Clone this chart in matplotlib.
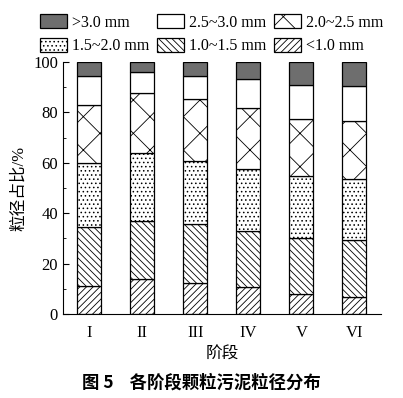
import numpy as np
import matplotlib.pyplot as plt
from matplotlib.ticker import MultipleLocator

plt.rcParams['font.family'] = ['Liberation Serif', 'Noto Sans CJK SC']
plt.rcParams['hatch.linewidth'] = 0.6

stages = ["I", "II", "III", "IV", "V", "VI"]

# layer shares (%), bottom to top
lt_10 = [11.2, 13.8, 12.2, 10.6, 7.9, 6.6]
s10_15 = [23.2, 23.2, 23.4, 22.5, 22.4, 22.6]
s15_20 = [25.4, 26.8, 25.1, 24.4, 24.3, 24.4]
s20_25 = [23.1, 24.0, 24.7, 24.1, 23.0, 23.0]
s25_30 = [11.7, 8.1, 9.0, 11.5, 13.3, 13.8]
gt_30 = [5.4, 4.1, 5.6, 6.9, 9.1, 9.6]

layers = [
    ("<1.0 mm", lt_10, "white", "/////"),
    ("1.0~1.5 mm", s10_15, "white", "\\\\\\\\\\"),
    ("1.5~2.0 mm", s15_20, "white", "...."),
    ("2.0~2.5 mm", s20_25, "white", "x"),
    ("2.5~3.0 mm", s25_30, "white", ""),
    (">3.0 mm", gt_30, "#6e6e6e", ""),
]

fig = plt.figure(figsize=(4.03, 3.98), dpi=100)
ax = fig.add_axes([0.156, 0.211, 0.789, 0.633])

x = np.arange(len(stages))
bottom = np.zeros(len(stages))
bars = {}
for name, vals, fc, hatch in layers:
    vals = np.array(vals)
    bars[name] = ax.bar(x, vals, 0.45, bottom=bottom, color=fc, edgecolor="black",
                        hatch=hatch, linewidth=0.9)
    bottom += vals

ax.set_xlim(-0.5, 5.5)
ax.set_ylim(0, 100)
ax.set_xticks(x)
ax.set_xticklabels(stages, fontsize=12)
ax.tick_params(axis="x", length=0, pad=8)
ax.yaxis.set_major_locator(MultipleLocator(20))
ax.yaxis.set_minor_locator(MultipleLocator(10))
ax.tick_params(axis="y", which="both", direction="in", labelsize=12)
ax.tick_params(axis="y", which="major", length=4)
ax.tick_params(axis="y", which="minor", length=2.5)
ax.spines["top"].set_visible(False)
ax.spines["right"].set_visible(False)

ax.set_ylabel("粒径占比/%", fontsize=12, labelpad=4)
ax.set_xlabel("阶段", fontsize=12, labelpad=4)

order = [">3.0 mm", "1.5~2.0 mm", "2.5~3.0 mm", "1.0~1.5 mm", "2.0~2.5 mm", "<1.0 mm"]
fig.legend([bars[k] for k in order], order, ncol=3, frameon=False,
           loc="upper center", bbox_to_anchor=(0.525, 1.0), fontsize=11.5,
           handlelength=1.7, handleheight=0.95, columnspacing=0.5,
           handletextpad=0.3, labelspacing=0.45)

fig.text(0.5, 0.025, "图 5    各阶段颗粒污泥粒径分布", ha="center", fontsize=12.5,
         fontweight="bold", family=['Noto Sans CJK SC'])

fig.savefig("out.png", dpi=100)
